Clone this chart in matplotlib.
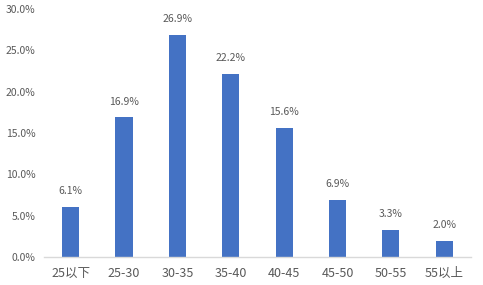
import matplotlib
matplotlib.use("Agg")
import matplotlib.pyplot as plt
from matplotlib.ticker import FuncFormatter

plt.rcParams['font.family'] = ['Noto Sans CJK SC', 'DejaVu Sans']

categories = ["25以下", "25-30", "30-35", "35-40", "40-45", "45-50", "50-55", "55以上"]
values = [6.1, 16.9, 26.9, 22.2, 15.6, 6.9, 3.3, 2.0]
yticks = [0, 5, 10, 15, 20, 25, 30]

fig = plt.figure(figsize=(4.83, 2.85), dpi=100)
ax = fig.add_axes([0.091, 0.098, 0.884, 0.870])
x = list(range(len(categories)))
ax.bar(x, values, width=0.32, color="#4472C4", zorder=2)
for xi, v in zip(x, values):
    ax.text(xi, v + 1.3, f"{v:.1f}%", ha="center", va="bottom", fontsize=7.5, color="#595959")
ax.set_xlim(-0.5, len(categories) - 0.5)
ax.set_ylim(0, 30)
ax.set_yticks(yticks)
ax.yaxis.set_major_formatter(FuncFormatter(lambda v, p: f"{v:.1f}%"))
ax.set_xticks(x)
ax.set_xticklabels(categories)
ax.tick_params(axis="y", length=0, labelsize=7.5, labelcolor="#595959", pad=6)
ax.tick_params(axis="x", length=0, labelsize=9, labelcolor="#595959", pad=7)
for s in ["top", "right", "left"]:
    ax.spines[s].set_visible(False)
ax.spines["bottom"].set_color("#D9D9D9")
ax.spines["bottom"].set_linewidth(1)
fig.savefig("out.png", dpi=100)
